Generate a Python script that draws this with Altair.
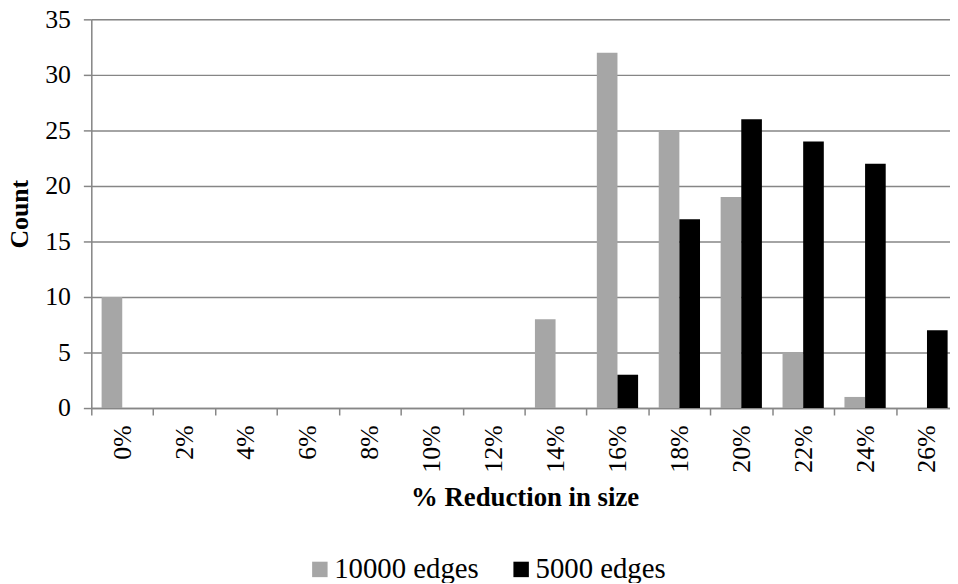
import altair as alt
import pandas as pd

categories = ["0%", "2%", "4%", "6%", "8%", "10%", "12%", "14%", "16%", "18%", "20%", "22%", "24%", "26%"]
series_names = ["10000 edges", "5000 edges"]
counts_10000 = [10, 0, 0, 0, 0, 0, 0, 8, 32, 25, 19, 5, 1, 0]
counts_5000 = [0, 0, 0, 0, 0, 0, 0, 0, 3, 17, 26, 24, 22, 7]
y_ticks = [0, 5, 10, 15, 20, 25, 30, 35]

rows = []
for c, a, b in zip(categories, counts_10000, counts_5000):
    rows.append({"reduction": c, "series": series_names[0], "count": a})
    rows.append({"reduction": c, "series": series_names[1], "count": b})
df = pd.DataFrame(rows)

FONT = "Liberation Serif"
GRID = "#868686"

chart = alt.Chart(df).mark_bar().encode(
    x=alt.X(
        "reduction:N",
        sort=categories,
        scale=alt.Scale(domain=categories, range=[0, 874], paddingInner=0, paddingOuter=0),
        axis=alt.Axis(
            title="% Reduction in size",
            labelAngle=-90,
            labelAlign="right",
            labelBaseline="middle",
            tickBand="extent",
            tickSize=7,
            tickColor=GRID,
            tickWidth=1.5,
            domainColor=GRID,
            domainWidth=1.5,
            labelPadding=10,
            labelFont=FONT,
            labelFontSize=26,
            labelColor="#000000",
            titleFont=FONT,
            titleFontSize=27,
            titleFontWeight="bold",
            titleColor="#000000",
            titleBaseline="alphabetic",
            titleY=98,
            titleX=437,
            titleAlign="center",
            grid=False,
        ),
    ),
    xOffset=alt.XOffset(
        "series:N",
        sort=series_names,
        scale=alt.Scale(domain=series_names, paddingInner=0, paddingOuter=0.5),
    ),
    y=alt.Y(
        "count:Q",
        scale=alt.Scale(domain=[0, 35], nice=False),
        axis=alt.Axis(
            title="Count",
            values=y_ticks,
            grid=True,
            gridColor=GRID,
            gridWidth=1.5,
            tickSize=8,
            tickColor=GRID,
            tickWidth=1.5,
            domainColor=GRID,
            domainWidth=1.5,
            labelPadding=13,
            labelFont=FONT,
            labelFontSize=26,
            labelColor="#000000",
            titleFont=FONT,
            titleFontSize=26,
            titleFontWeight="bold",
            titleColor="#000000",
            titleAngle=-90,
            titleBaseline="alphabetic",
            titleAlign="center",
            titleX=-64,
            titleY=196,
        ),
    ),
    color=alt.Color(
        "series:N",
        sort=series_names,
        scale=alt.Scale(domain=series_names, range=["#A6A6A6", "#000000"]),
        legend=alt.Legend(
            title=None,
            orient="none",
            direction="horizontal",
            columns=2,
            legendX=216,
            legendY=540,
            padding=0,
            symbolType="square",
            symbolSize=243,
            symbolStrokeWidth=0,
            labelFont=FONT,
            labelFontSize=29,
            labelColor="#000000",
            labelOffset=0,
            columnPadding=28,
            labelLimit=400,
        ),
    ),
).properties(
    width=866,
    height=392,
    autosize=alt.AutoSizeParams(type="none"),
    padding={"left": 84, "top": 9, "right": 0, "bottom": 174},
).configure_view(
    stroke=None
).configure(
    background="white"
)

chart.save("out.html", embed_options={"renderer": "svg", "actions": False})
